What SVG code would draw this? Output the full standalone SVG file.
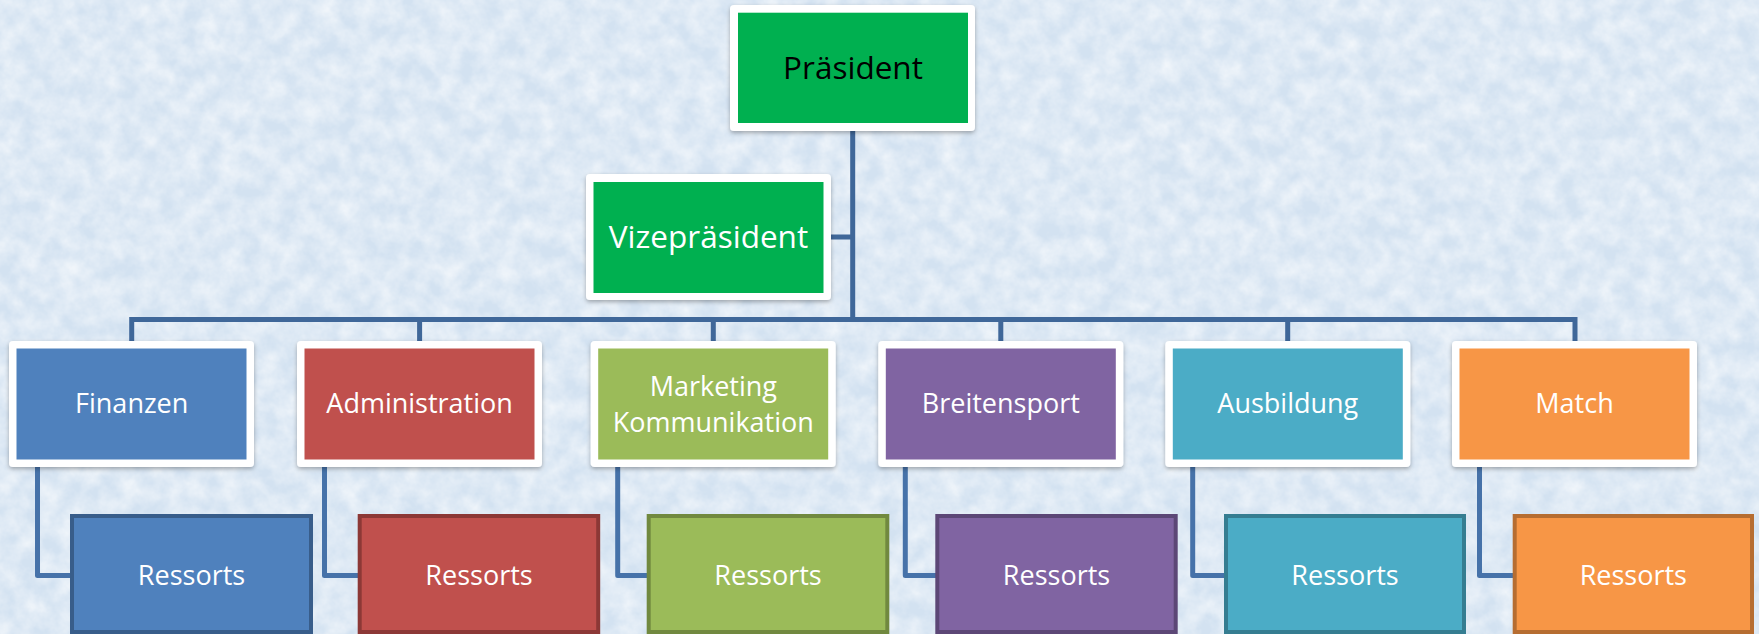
<svg xmlns="http://www.w3.org/2000/svg" width="1759" height="634" viewBox="0 0 1759 634">
<defs>
<filter id="tex" x="0" y="0" width="100%" height="100%">
<feTurbulence type="fractalNoise" baseFrequency="0.05" numOctaves="4" seed="7"/>
<feColorMatrix type="matrix" values="0 0 0 0 1  0 0 0 0 1  0 0 0 0 1  1.0 0 0 0 -0.25"/>
</filter>
<filter id="sh" x="-10%" y="-10%" width="120%" height="130%">
<feDropShadow dx="0" dy="2" stdDeviation="2" flood-color="#000" flood-opacity="0.3"/>
</filter>
<style>
.bg{fill:#d3e2f1}
.frame{fill:#ffffff;filter:url(#sh)}
.main{fill:none;stroke:#3f6799;stroke-width:5;stroke-linejoin:miter}
.sub{fill:none;stroke:#4672a9;stroke-width:5;stroke-linejoin:round}
.t{font-family:"Open Sans","Noto Sans","Liberation Sans",sans-serif;font-size:27px;fill:#ffffff;text-anchor:middle}
.big{font-size:31.5px}
.res{stroke-width:4}
</style>
</defs>
<rect class="bg" x="0" y="0" width="1759" height="634"/>
<rect x="0" y="0" width="1759" height="634" filter="url(#tex)"/>

<g id="connectors">
<path class="main" d="M852.7,131 V319.5 M831,237 H852.7 M131.7,319.5 H1575 M131.7,317 V341 M419.6,319.5 V341 M713.3,319.5 V341 M1000.8,319.5 V341 M1287.7,319.5 V341 M1575,317 V341"/>
<path class="sub" d="M37.5,466 V575.5 H72"/>
<path class="sub" d="M324.5,466 V575.5 H359"/>
<path class="sub" d="M617.7,466 V575.5 H648"/>
<path class="sub" d="M905.3,466 V575.5 H937"/>
<path class="sub" d="M1192.7,466 V575.5 H1226"/>
<path class="sub" d="M1479.5,466 V575.5 H1514"/>
</g>

<g id="praesident">
<rect class="frame" x="730" y="5" width="245" height="126" rx="4"/>
<rect x="738" y="12.7" width="230" height="110.3" fill="#00b050"/>
<text class="t big" x="853" y="79" style="fill:#000000">Präsident</text>
</g>

<g id="vizepraesident">
<rect class="frame" x="586" y="174" width="245" height="126" rx="4"/>
<rect x="593.5" y="182" width="230" height="111" fill="#00b050"/>
<text class="t big" x="708.5" y="248">Vizepräsident</text>
</g>

<g id="finanzen">
<rect class="frame" x="9" y="341" width="245" height="126" rx="4"/>
<rect x="16.5" y="348.5" width="230" height="111" fill="#4f81bd"/>
<text class="t" x="131.7" y="413">Finanzen</text>
</g>
<g id="administration">
<rect class="frame" x="297" y="341" width="245" height="126" rx="4"/>
<rect x="304.5" y="348.5" width="230" height="111" fill="#c0504d"/>
<text class="t" x="419.6" y="413">Administration</text>
</g>
<g id="marketing">
<rect class="frame" x="590.7" y="341" width="245" height="126" rx="4"/>
<rect x="598.2" y="348.5" width="230" height="111" fill="#9bbb59"/>
<text class="t" x="713.3" y="395.5">Marketing</text>
<text class="t" x="713.3" y="431.5">Kommunikation</text>
</g>
<g id="breitensport">
<rect class="frame" x="878.3" y="341" width="245" height="126" rx="4"/>
<rect x="885.8" y="348.5" width="230" height="111" fill="#8064a2"/>
<text class="t" x="1000.8" y="413">Breitensport</text>
</g>
<g id="ausbildung">
<rect class="frame" x="1165.3" y="341" width="245" height="126" rx="4"/>
<rect x="1172.8" y="348.5" width="230" height="111" fill="#4bacc6"/>
<text class="t" x="1287.8" y="413">Ausbildung</text>
</g>
<g id="match">
<rect class="frame" x="1452" y="341" width="245" height="126" rx="4"/>
<rect x="1459.5" y="348.5" width="230" height="111" fill="#f79646"/>
<text class="t" x="1574.5" y="413">Match</text>
</g>

<g id="ressorts-finanzen">
<rect class="res" x="72" y="516" width="239" height="116" fill="#4f81bd" stroke="#385d8a"/>
<text class="t" x="191.5" y="585">Ressorts</text>
</g>
<g id="ressorts-administration">
<rect class="res" x="359.7" y="516" width="238.5" height="116" fill="#c0504d" stroke="#8c3836"/>
<text class="t" x="479" y="585">Ressorts</text>
</g>
<g id="ressorts-marketing">
<rect class="res" x="648.7" y="516" width="238.6" height="116" fill="#9bbb59" stroke="#71893f"/>
<text class="t" x="768" y="585">Ressorts</text>
</g>
<g id="ressorts-breitensport">
<rect class="res" x="937.3" y="516" width="238.4" height="116" fill="#8064a2" stroke="#5c4776"/>
<text class="t" x="1056.5" y="585">Ressorts</text>
</g>
<g id="ressorts-ausbildung">
<rect class="res" x="1226" y="516" width="238" height="116" fill="#4bacc6" stroke="#357d91"/>
<text class="t" x="1345" y="585">Ressorts</text>
</g>
<g id="ressorts-match">
<rect class="res" x="1514.7" y="516" width="237.3" height="116" fill="#f79646" stroke="#b66d31"/>
<text class="t" x="1633.3" y="585">Ressorts</text>
</g>
</svg>
